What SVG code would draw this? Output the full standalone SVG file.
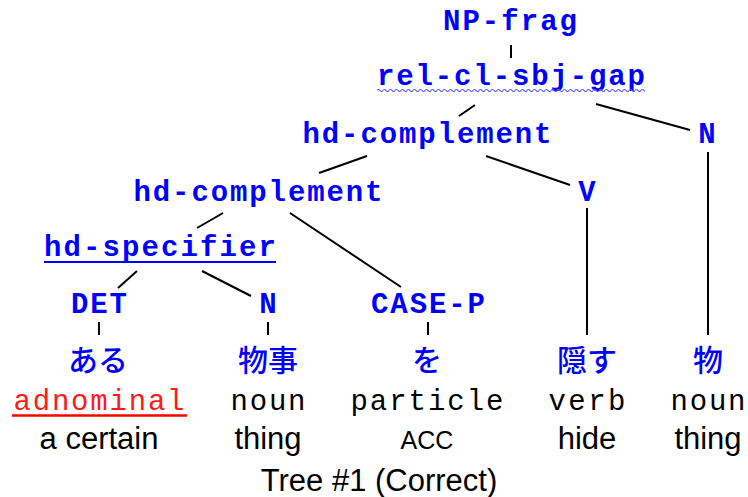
<svg xmlns="http://www.w3.org/2000/svg" width="748" height="497" viewBox="0 0 748 497">
  <style>
    .lab { font-family: "Liberation Mono", "DejaVu Sans Mono", monospace; font-weight: bold; font-size: 29px; fill: #0000ff; text-anchor: middle; }
    .jp  { font-family: "Noto Sans CJK JP", "Noto Sans CJK SC", sans-serif; font-size: 30px; font-weight: 500; fill: #0000ff; text-anchor: middle; }
    .pos { font-family: "Liberation Mono", "DejaVu Sans Mono", monospace; font-size: 29px; fill: #000; text-anchor: middle; }
    .gl  { font-family: "Liberation Sans", Arial, sans-serif; font-size: 31px; fill: #000; text-anchor: middle; }
    .edge { stroke: #000; stroke-width: 2; fill: none; stroke-linecap: butt; }
  </style>
  <defs>
    <pattern id="wave" patternUnits="userSpaceOnUse" x="377" y="88" width="6" height="5">
      <path d="M0,2.5 Q1.5,0.5 3,2.5 T6,2.5" fill="none" stroke="#5a5aff" stroke-width="1.2"/>
    </pattern>
  </defs>

  <g id="connectors">
    <line class="edge" x1="511" y1="45" x2="511" y2="58"/>
    <line class="edge" x1="475" y1="105" x2="459" y2="116"/>
    <line class="edge" x1="596" y1="104" x2="690" y2="130"/>
    <line class="edge" x1="367" y1="156" x2="319" y2="173"/>
    <line class="edge" x1="486" y1="156" x2="570" y2="185"/>
    <line class="edge" x1="708" y1="152" x2="708" y2="335"/>
    <line class="edge" x1="223" y1="213" x2="197" y2="228"/>
    <line class="edge" x1="290" y1="213" x2="401" y2="287"/>
    <line class="edge" x1="587" y1="208" x2="587" y2="335"/>
    <line class="edge" x1="137" y1="271" x2="118" y2="288"/>
    <line class="edge" x1="202" y1="271" x2="251" y2="296"/>
    <line class="edge" x1="99" y1="322" x2="99" y2="335"/>
    <line class="edge" x1="268" y1="322" x2="268" y2="335"/>
    <line class="edge" x1="428" y1="322" x2="428" y2="335"/>
  </g>

  <g id="np-frag">
    <text class="lab" x="510" y="30" textLength="134" lengthAdjust="spacing">NP-frag</text>
  </g>
  <g id="rel-cl-sbj-gap">
    <text class="lab" x="511" y="85" textLength="268" lengthAdjust="spacing">rel-cl-sbj-gap</text>
    <rect x="377" y="88" width="268" height="5" fill="url(#wave)"/>
  </g>
  <g id="hd-complement-1">
    <text class="lab" x="427" y="143" textLength="249" lengthAdjust="spacing">hd-complement</text>
  </g>
  <g id="n-right">
    <text class="lab" x="707" y="143">N</text>
  </g>
  <g id="hd-complement-2">
    <text class="lab" x="258" y="201" textLength="249" lengthAdjust="spacing">hd-complement</text>
  </g>
  <g id="v">
    <text class="lab" x="587" y="201">V</text>
  </g>
  <g id="hd-specifier">
    <text class="lab" x="160" y="256" textLength="232" lengthAdjust="spacing">hd-specifier</text>
    <line x1="44" y1="262" x2="276" y2="262" stroke="#0000ff" stroke-width="2"/>
  </g>
  <g id="det">
    <text class="lab" x="99" y="313" textLength="56" lengthAdjust="spacing">DET</text>
  </g>
  <g id="n-left">
    <text class="lab" x="268" y="313">N</text>
  </g>
  <g id="case-p">
    <text class="lab" x="428" y="313" textLength="114" lengthAdjust="spacing">CASE-P</text>
  </g>

  <g id="word-aru">
    <text class="jp" x="98" y="371">ある</text>
    <text class="pos" x="99" y="410" textLength="171" lengthAdjust="spacing" style="fill:#ff1a1a">adnominal</text>
    <line x1="12" y1="415.5" x2="187" y2="415.5" stroke="#ff0000" stroke-width="2.5"/>
    <text class="gl" x="99" y="449">a certain</text>
  </g>
  <g id="word-monogoto">
    <text class="jp" x="268" y="371">物事</text>
    <text class="pos" x="268" y="410" textLength="75" lengthAdjust="spacing">noun</text>
    <text class="gl" x="268" y="449">thing</text>
  </g>
  <g id="word-wo">
    <text class="jp" x="427" y="371">を</text>
    <text class="pos" x="427" y="410" textLength="153" lengthAdjust="spacing">particle</text>
    <text class="gl" x="427" y="449" style="font-size:25px">ACC</text>
  </g>
  <g id="word-kakusu">
    <text class="jp" x="587" y="371">隠す</text>
    <text class="pos" x="587" y="410" textLength="77" lengthAdjust="spacing">verb</text>
    <text class="gl" x="587" y="449">hide</text>
  </g>
  <g id="word-mono">
    <text class="jp" x="708" y="371">物</text>
    <text class="pos" x="708" y="410" textLength="75" lengthAdjust="spacing">noun</text>
    <text class="gl" x="708" y="449">thing</text>
  </g>

  <g id="caption">
    <text class="gl" x="379" y="491">Tree #1 (Correct)</text>
  </g>
</svg>
